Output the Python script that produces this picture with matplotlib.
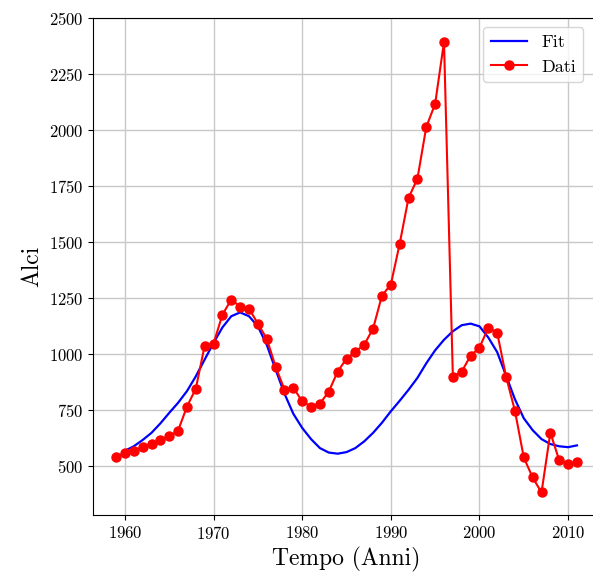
import numpy as np
import matplotlib
matplotlib.use("Agg")
import matplotlib.pyplot as plt

plt.rcParams["font.family"] = ["cmr10", "DejaVu Serif"]
plt.rcParams["mathtext.fontset"] = "cm"
plt.rcParams["axes.formatter.use_mathtext"] = True

# Observed moose population
anni = list(range(1959, 2012))
alci = [540, 562, 571, 585, 598, 620, 634, 660, 767, 847,
        1039, 1048, 1177, 1244, 1213, 1204, 1137, 1070, 945, 843,
        852, 790, 767, 780, 834, 923, 981, 1012, 1043, 1115,
        1262, 1311, 1493, 1698, 1783, 2014, 2117, 2393, 901, 923,
        994, 1030, 1119, 1097, 901, 749, 540, 451, 384, 651,
        527, 513, 518]

# Fitted model, sampled yearly
anni_fit = list(range(1960, 2012))
fit = [570, 590, 618, 650, 692, 739, 784, 836, 902, 977,
       1051, 1120, 1170, 1187, 1170, 1125, 1043, 932, 825, 735,
       672, 622, 582, 562, 557, 564, 582, 612, 650, 695,
       746, 793, 842, 895, 960, 1018, 1065, 1103, 1130, 1137,
       1125, 1075, 1010, 905, 800, 715, 662, 622, 600, 590,
       586, 594]

fig = plt.figure(figsize=(5.93, 5.76), dpi=100)
# the axes run a little past the right edge of the canvas
ax = fig.add_axes([93 / 593, 61 / 576, 507 / 593, 497 / 576])

ax.plot(anni_fit, fit, color="blue", lw=1.6, label="Fit", zorder=3)
ax.plot(anni, alci, color="red", lw=1.5, marker="o", markersize=6.5,
        label="Dati", zorder=4)

ax.set_xlim(1956.4, 2013.6)
ax.set_yticks([500, 750, 1000, 1250, 1500, 1750, 2000, 2250, 2500])
ax.set_xticks([1960, 1970, 1980, 1990, 2000, 2010])
ax.tick_params(labelsize=12)
ax.grid(True, color="#c8c8c8", lw=1.0)
ax.set_axisbelow(True)

ax.set_xlabel("Tempo (Anni)", fontsize=17)
ax.set_ylabel("Alci", fontsize=17)
ax.legend(loc="upper right", fontsize=13, bbox_to_anchor=(0.985, 1.0))

fig.savefig("out.png", dpi=100)
